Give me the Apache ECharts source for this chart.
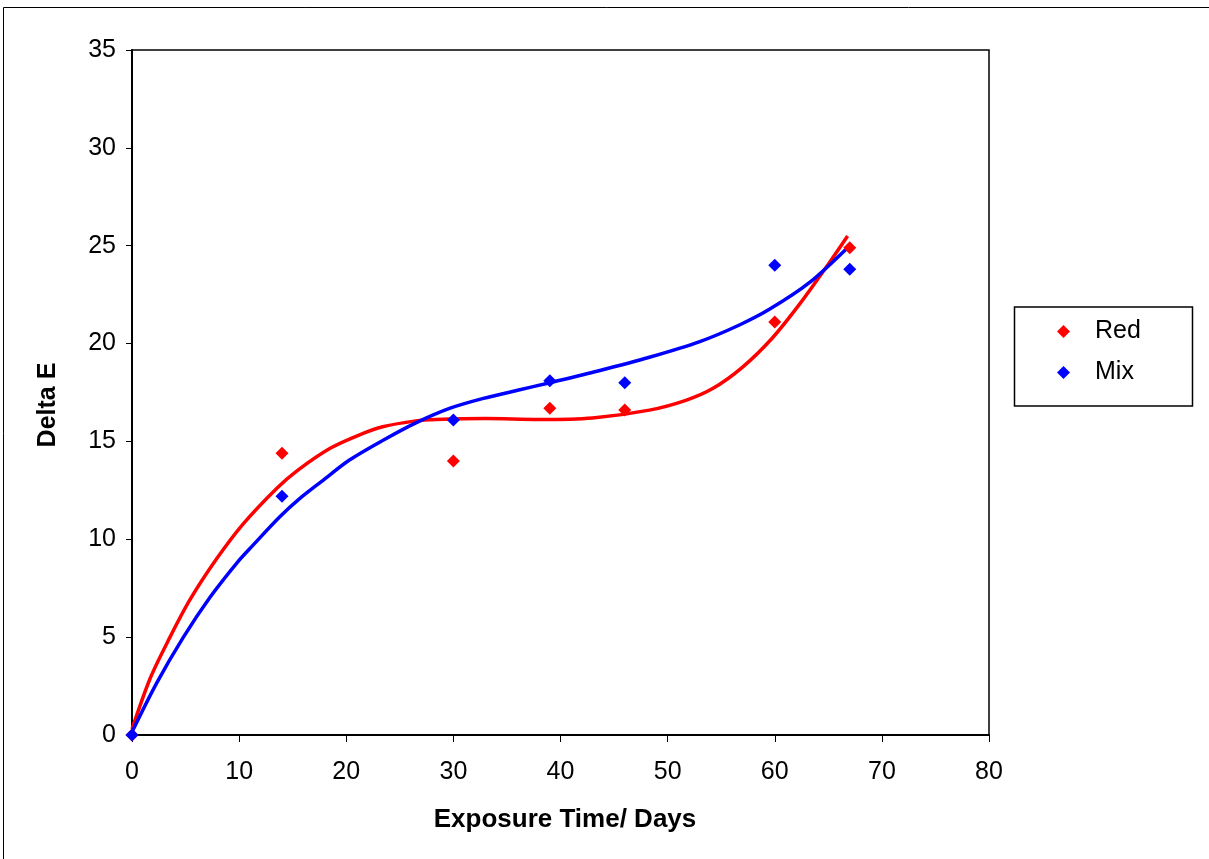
<!DOCTYPE html>
<html>
<head>
<meta charset="utf-8">
<script src="https://cdn.jsdelivr.net/npm/echarts@6/dist/echarts.min.js"></script>
<style>
html,body{margin:0;padding:0;background:#fff;}
#c{width:1209px;height:859px;}
</style>
</head>
<body>
<div id="c"></div>
<script>
// Measured data points (Exposure time in days, Delta E)
const days = [0, 14, 30, 39, 46, 60, 67];
const redValues = [0, 14.4, 14.0, 16.7, 16.6, 21.1, 24.9];
const mixValues = [0, 12.2, 16.1, 18.1, 18.0, 24.0, 23.8];

// Trendline values
const redTrendX = [0, 1.7, 3.5, 5.4, 7.9, 10.4, 13.5, 15.4, 18.5, 21.3, 23.4, 26.5, 28.4, 33, 38, 43, 48.3, 51.7, 54.2, 57.0, 59.8, 62.3, 64.8, 66.8];
const redTrendY = [0.3, 2.9, 4.95, 6.9, 9.0, 10.8, 12.6, 13.5, 14.65, 15.35, 15.75, 16.05, 16.12, 16.17, 16.12, 16.2, 16.6, 17.1, 17.7, 18.8, 20.3, 22.0, 23.9, 25.5];
const mixTrendX = [0, 2.3, 4.8, 7.3, 9.8, 11.3, 13.8, 15.7, 17.8, 20.3, 23.4, 26.5, 29.7, 32.8, 35.9, 39.0, 43.5, 48.3, 53.0, 56.7, 59.5, 63.2, 66.8];
const mixTrendY = [0.15, 2.65, 5.0, 7.05, 8.8, 9.7, 11.15, 12.1, 13.0, 14.05, 15.05, 15.95, 16.7, 17.2, 17.6, 18.0, 18.6, 19.3, 20.1, 20.95, 21.75, 23.1, 24.9];

const xTicks = [0, 10, 20, 30, 40, 50, 60, 70, 80];
const yTicks = [0, 5, 10, 15, 20, 25, 30, 35];

const zip = (a, b) => a.map((v, i) => [v, b[i]]);

const chart = echarts.init(document.getElementById('c'), null, {renderer: 'canvas'});
const FONT = 'Liberation Sans, Arial, sans-serif';

chart.setOption({
  animation: false,
  backgroundColor: '#fff',
  grid: {
    left: 132, top: 50, right: 220, bottom: 124,
    show: true, borderColor: '#000', borderWidth: 1.5, containLabel: false
  },
  xAxis: {
    type: 'value',
    min: xTicks[0], max: xTicks[xTicks.length - 1], interval: 10,
    axisLine: {show: true, onZero: false, lineStyle: {color: '#000', width: 2}},
    axisTick: {show: true, inside: false, length: 7, lineStyle: {color: '#000', width: 1}},
    axisLabel: {fontFamily: FONT, fontSize: 25, color: '#000', margin: 25},
    splitLine: {show: false}
  },
  yAxis: {
    type: 'value',
    min: yTicks[0], max: yTicks[yTicks.length - 1], interval: 5,
    axisLine: {show: true, onZero: false, lineStyle: {color: '#000', width: 2}},
    axisTick: {show: true, inside: false, length: 6, lineStyle: {color: '#000', width: 1}},
    axisLabel: {fontFamily: FONT, fontSize: 25, color: '#000', margin: 16},
    splitLine: {show: false}
  },
  legend: {
    data: ['Red', 'Mix'],
    orient: 'vertical',
    left: 1057, top: 319,
    padding: 0,
    itemWidth: 13, itemHeight: 13, itemGap: 16,
    icon: 'diamond',
    textStyle: {fontFamily: FONT, fontSize: 25, color: '#000', padding: [0, 0, 0, 20]}
  },
  graphic: [
    {type: 'rect', shape: {x: 3.5, y: 7.5, width: 1230, height: 880}, style: {fill: 'none', stroke: '#000', lineWidth: 1}, z: 0, silent: true},
    {type: 'rect', shape: {x: 1014.5, y: 307, width: 178, height: 99}, style: {fill: 'none', stroke: '#000', lineWidth: 1.5}, z: 10, silent: true},
    {type: 'text', x: 48, y: 405, rotation: Math.PI / 2,
      style: {text: 'Delta E', fontFamily: FONT, fontSize: 25, fontWeight: 'bold', fill: '#000', align: 'center', verticalAlign: 'middle'}, z: 10},
    {type: 'text', x: 565, y: 820,
      style: {text: 'Exposure Time/ Days', fontFamily: FONT, fontSize: 26, fontWeight: 'bold', fill: '#000', align: 'center', verticalAlign: 'middle'}, z: 10}
  ],
  series: [
    {
      name: 'Red trend', type: 'line', data: zip(redTrendX, redTrendY),
      smooth: 0.3, showSymbol: false, symbol: 'none',
      lineStyle: {color: '#ff0000', width: 3.5}, z: 2, silent: true
    },
    {
      name: 'Mix trend', type: 'line', data: zip(mixTrendX, mixTrendY),
      smooth: 0.3, showSymbol: false, symbol: 'none',
      lineStyle: {color: '#0000ff', width: 3.5}, z: 2, silent: true
    },
    {
      name: 'Red', type: 'scatter', data: zip(days, redValues),
      symbol: 'diamond', symbolSize: 13,
      itemStyle: {color: '#ff0000', opacity: 1}, z: 4
    },
    {
      name: 'Mix', type: 'scatter', data: zip(days, mixValues),
      symbol: 'diamond', symbolSize: 13,
      itemStyle: {color: '#0000ff', opacity: 1}, z: 5
    }
  ]
});
</script>
</body>
</html>
